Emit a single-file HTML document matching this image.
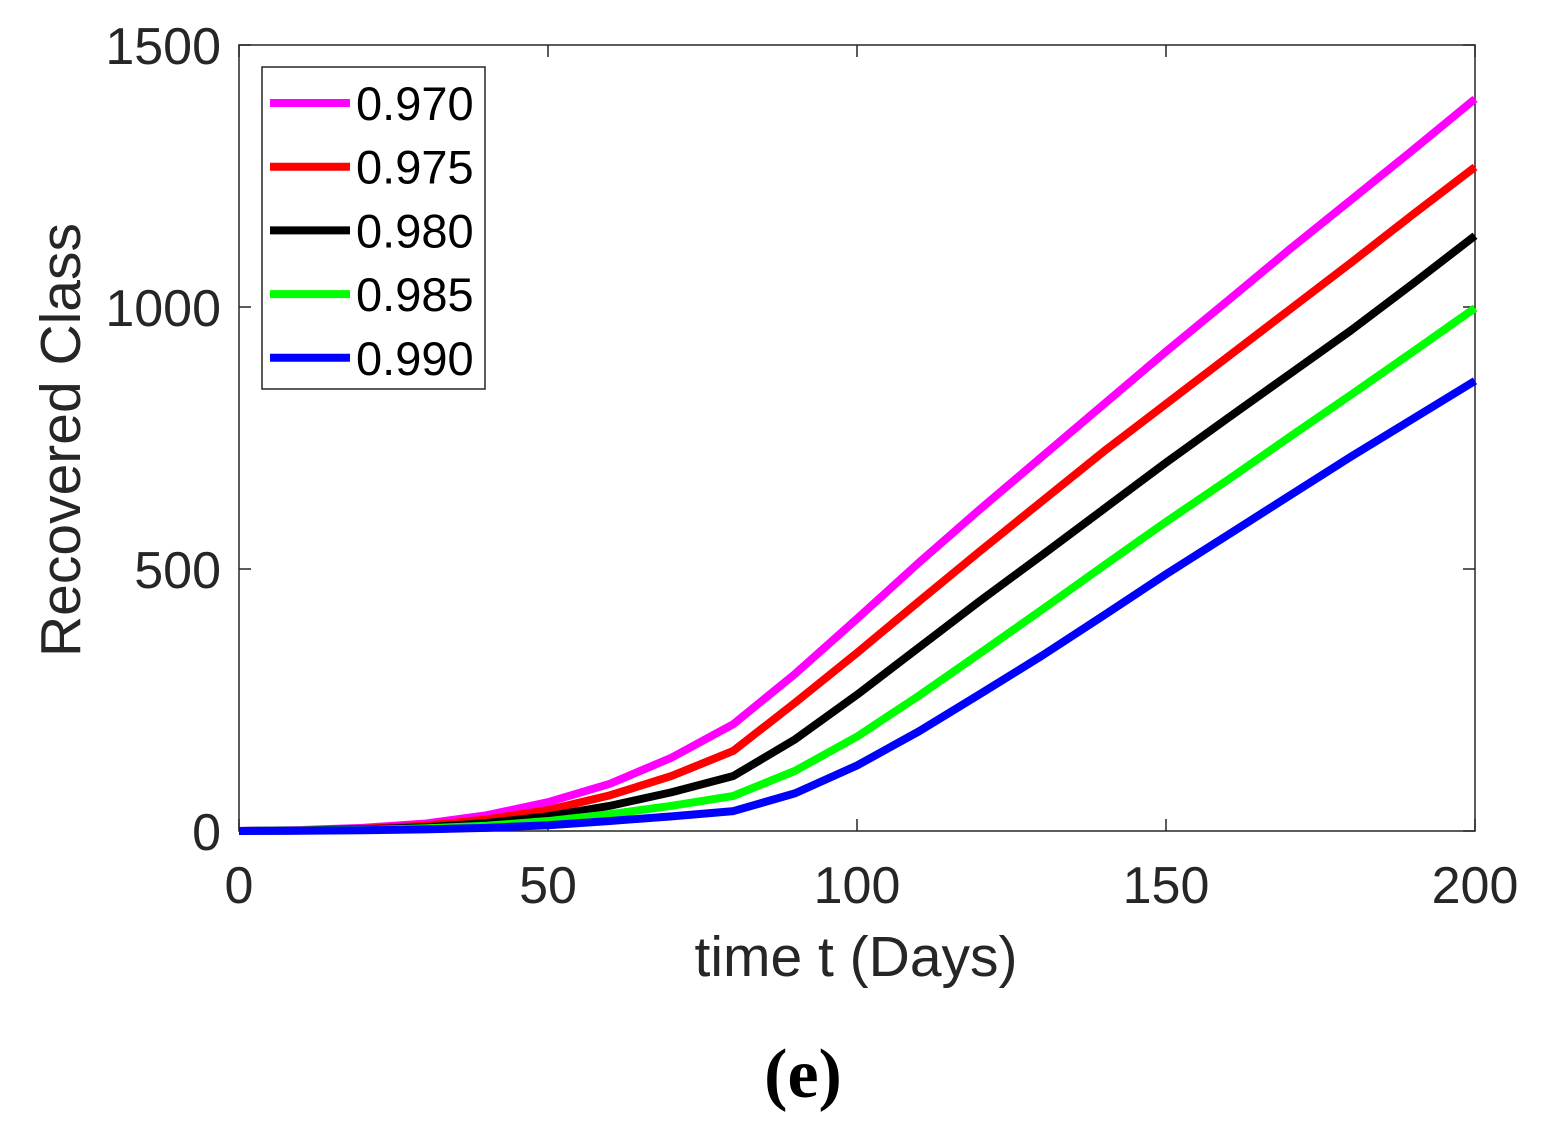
<!DOCTYPE html>
<html><head><meta charset="utf-8"><style>
body{margin:0;background:#fff}
svg text{font-family:"Liberation Sans",sans-serif;fill:#262626}
</style></head><body>
<svg id="chart" width="1553" height="1124" xmlns="http://www.w3.org/2000/svg">
<rect x="239" y="45" width="1236" height="786" fill="#fff" stroke="#262626" stroke-width="1.5"/>
<g id="ticks"></g>
<g id="series"></g>
<text x="80" y="440" font-size="57" text-anchor="middle" transform="rotate(-90 80 440)">Recovered Class</text>
<text x="856" y="976" font-size="57" text-anchor="middle">time t (Days)</text>
<text x="803" y="1097" font-size="70" font-weight="bold" text-anchor="middle" style="font-family:'Liberation Serif',serif;fill:#000">(e)</text>
<g id="legend"></g>
</svg>
<script>
const tVals=[0,10,20,30,40,50,60,70,80,90,100,110,120,130,140,150,160,170,180,190,200];
const labels=["0.970","0.975","0.980","0.985","0.990"];
const colors=["#ff00ff","#ff0000","#000000","#00ff00","#0000ff"];
const s970=[0,2,6,14,30,55,90,140,204,300,405,512,615,715,815,915,1012,1110,1205,1300,1397];
const s975=[0,1,4,10,22,40,68,105,153,245,340,438,535,630,725,815,905,995,1085,1177,1267];
const s980=[0,1,3,7,15,28,48,74,105,175,260,350,440,527,615,703,788,872,956,1045,1136];
const s985=[0,1,2,5,10,19,32,48,67,115,180,258,340,423,507,590,670,752,833,915,998];
const s990=[0,0.5,1.5,3,6,11,19,28,38,72,125,190,262,335,412,490,565,640,715,787,859];
const seriesData=[s970,s975,s980,s985,s990];
const xTicks=[0,50,100,150,200];
const yTicks=[0,500,1000,1500];
const X=t=>239+t*(1236/200);
const Y=v=>831-v*(786/1500);
const NS="http://www.w3.org/2000/svg";
const tg=document.getElementById('ticks');
xTicks.forEach(t=>{
  [[831,819],[45,57]].forEach(([a,b])=>{const l=document.createElementNS(NS,'line');
  l.setAttribute('x1',X(t));l.setAttribute('x2',X(t));l.setAttribute('y1',a);l.setAttribute('y2',b);l.setAttribute('stroke','#262626');l.setAttribute('stroke-width','1.5');
  
  
  tg.appendChild(l);});
  const tx=document.createElementNS(NS,'text');tx.setAttribute('x',X(t));tx.setAttribute('y',903);tx.setAttribute('font-size','52');tx.setAttribute('text-anchor','middle');tx.textContent=t;
  
  
  tg.appendChild(tx);
});
yTicks.forEach(v=>{
  [[239,251],[1475,1463]].forEach(([a,b])=>{const l=document.createElementNS(NS,'line');
  l.setAttribute('x1',a);l.setAttribute('x2',b);l.setAttribute('y1',Y(v));l.setAttribute('y2',Y(v));l.setAttribute('stroke','#262626');l.setAttribute('stroke-width','1.5');
  
  
  tg.appendChild(l);});
  const tx=document.createElementNS(NS,'text');tx.setAttribute('x',221);tx.setAttribute('y',Y(v)+19);tx.setAttribute('font-size','52');tx.setAttribute('text-anchor','end');tx.textContent=v;
  
  
  tg.appendChild(tx);
});
const sg=document.getElementById('series');
seriesData.forEach((s,i)=>{
  const p=document.createElementNS(NS,'polyline');
  p.setAttribute('points',s.map((v,j)=>X(tVals[j])+','+Y(v)).join(' '));
  p.setAttribute('fill','none');p.setAttribute('stroke',colors[i]);p.setAttribute('stroke-width','8');p.setAttribute('stroke-linejoin','round');
  
  
  sg.appendChild(p);
});
const lg=document.getElementById('legend');
const box=document.createElementNS(NS,'rect');
box.setAttribute('x',262);box.setAttribute('y',67);box.setAttribute('width',223);box.setAttribute('height',322);box.setAttribute('fill','#fff');box.setAttribute('stroke','#262626');box.setAttribute('stroke-width','1.5');


lg.appendChild(box);
labels.forEach((lab,i)=>{
  const y=103+i*63.7;
  const l=document.createElementNS(NS,'line');
  l.setAttribute('x1',270);l.setAttribute('x2',350);l.setAttribute('y1',y);l.setAttribute('y2',y);l.setAttribute('stroke',colors[i]);l.setAttribute('stroke-width','8');
  
  
  lg.appendChild(l);
  const tx=document.createElementNS(NS,'text');tx.setAttribute('x',356);tx.setAttribute('y',y+17);tx.setAttribute('font-size','47');tx.setAttribute('style','fill:#000');tx.textContent=lab;
  
  
  lg.appendChild(tx);
});
</script>
</body></html>
